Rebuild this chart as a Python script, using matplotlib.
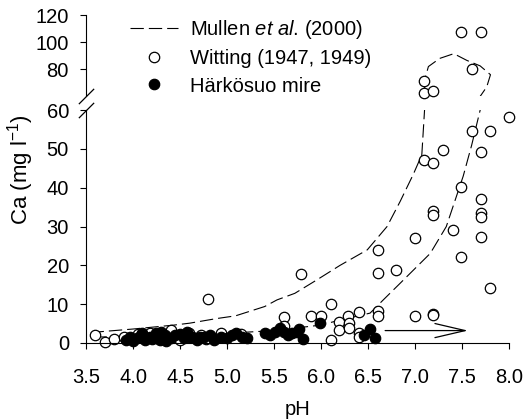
import matplotlib
matplotlib.use('Agg')
import matplotlib.pyplot as plt
from matplotlib.lines import Line2D
import numpy as np

plt.rcParams['font.family'] = 'Liberation Sans'
plt.rcParams['font.size'] = 14.5
plt.rcParams['mathtext.fontset'] = 'custom'
plt.rcParams['mathtext.rm'] = 'Liberation Sans'
plt.rcParams['mathtext.it'] = 'Liberation Sans:italic'

# Mullen et al. (2000) envelope, traced as one closed path
mullen_ph = [3.55, 3.65, 4.0, 4.43, 4.6, 4.89, 5.09, 5.40, 5.53, 5.72, 5.95, 6.2,
             6.49, 6.70, 6.84, 6.98, 7.07, 7.10, 7.10, 7.14, 7.26, 7.41, 7.55, 7.69,
             7.80, 7.76, 7.71, 7.69, 7.60, 7.51, 7.33, 7.16, 6.84, 6.66, 6.52, 6.20,
             5.99, 5.5, 5.0, 4.5, 4.0, 3.55]
mullen_ca = [2.5, 2.9, 3.6, 4.6, 5.1, 6.3, 7.0, 9.4, 11.1, 12.8, 16.2, 20.0,
             24.0, 30.0, 36.5, 43.5, 48.5, 60.4, 72.0, 82.0, 88.0, 91.5, 86.5, 82.5,
             76.0, 67.0, 62.0, 60.0, 51.0, 43.0, 30.0, 23.1, 15.4, 11.1, 7.7, 5.9,
             4.6, 3.2, 2.5, 2.0, 1.7, 1.5]

# Witting (1947, 1949)
witting_ph = [7.49, 7.70, 7.60, 7.09, 7.09, 7.19,
              8.00, 7.60, 7.80, 7.30, 7.70, 7.09, 7.19,
              7.49, 7.70, 7.70, 7.70, 7.19, 7.19, 7.40, 7.00, 7.70, 7.49, 6.80, 7.80,
              7.00, 7.19, 7.19,
              6.60, 6.60, 5.79, 6.10, 5.89, 6.00, 6.29, 6.40, 6.60, 6.60, 6.19, 6.30,
              6.19, 6.30, 6.40, 6.40, 6.10,
              4.80, 5.60, 5.60,
              3.60, 3.70, 3.80, 3.90, 4.18, 4.40, 4.50, 4.59, 4.30, 4.05, 4.72, 4.78,
              4.93, 5.15, 4.25]
witting_ca = [107.7, 107.7, 80.0, 71.6, 62.3, 64.0,
              58.2, 54.6, 54.6, 49.7, 49.1, 47.2, 46.3,
              40.3, 37.0, 33.4, 32.4, 34.1, 33.0, 29.1, 27.1, 27.4, 22.2, 18.8, 14.1,
              7.0, 7.6, 7.2,
              24.0, 18.1, 17.8, 10.0, 7.0, 7.0, 7.0, 8.1, 8.2, 7.0, 5.5, 5.2,
              3.4, 3.8, 2.5, 1.5, 0.8,
              11.3, 6.8, 4.3,
              2.1, 0.3, 1.0, 1.6, 2.5, 3.4, 0.7, 2.5, 2.4, 2.2, 2.0, 1.0,
              2.5, 2.3, 1.2]

# Härkösuo mire
harko_ph = [3.93, 3.97, 4.00, 4.04, 4.08, 4.10, 4.13, 4.18, 4.20, 4.24,
            4.25, 4.29, 4.30, 4.34, 4.35, 4.40, 4.45, 4.50, 4.54, 4.57,
            4.61, 4.63, 4.66, 4.68, 4.71, 4.75, 4.82, 4.86, 4.94, 5.00,
            5.05, 5.10, 5.16, 5.21, 5.40, 5.46, 5.51, 5.56, 5.60, 5.65,
            5.69, 5.74, 5.76, 5.81, 5.99, 6.46, 6.52, 6.57]
harko_ca = [0.8, 1.6, 0.5, 1.2, 2.1, 2.6, 0.8, 1.6, 1.0, 2.5,
            1.8, 0.9, 2.8, 2.1, 0.6, 1.2, 2.1, 2.2, 1.2, 2.9,
            1.6, 1.6, 1.2, 0.9, 1.6, 1.6, 2.1, 0.9, 1.6, 1.2,
            2.1, 2.5, 1.6, 1.2, 2.5, 2.1, 2.9, 3.8, 2.9, 2.1,
            2.5, 2.9, 3.5, 1.0, 5.1, 2.1, 3.6, 1.2]

xticks = [3.5, 4.0, 4.5, 5.0, 5.5, 6.0, 6.5, 7.0, 7.5, 8.0]
low_yticks = [0, 10, 20, 30, 40, 50, 60]
high_yticks = [80, 100, 120]
break_at = 60

wx, wy = np.array(witting_ph), np.array(witting_ca)
hx, hy = np.array(harko_ph), np.array(harko_ca)

fig = plt.figure(figsize=(5.23, 4.19), dpi=100)
ax_lo = fig.add_axes([0.1644, 0.1814, 0.8094, 0.5556])
ax_hi = fig.add_axes([0.1644, 0.7699, 0.8094, 0.1943], sharex=ax_lo)

dash = (0, (12, 4.5))
open_kw = dict(ls='none', marker='o', ms=7.5, mfc='white', mec='black', mew=0.9, clip_on=False)
fill_kw = dict(ls='none', marker='o', ms=7.5, mfc='black', mec='black', mew=0.9, clip_on=False)

for ax in (ax_lo, ax_hi):
    ax.plot(mullen_ph, mullen_ca, color='black', lw=0.8, ls=dash, zorder=1)
    ax.spines['top'].set_visible(False)
    ax.spines['right'].set_visible(False)
    ax.spines['left'].set_linewidth(0.8)
    ax.spines['bottom'].set_linewidth(0.8)
    ax.tick_params(direction='out', length=4.3, width=0.8)

lo = wy <= break_at
ax_lo.plot(wx[lo], wy[lo], zorder=2, **open_kw)
ax_hi.plot(wx[~lo], wy[~lo], zorder=2, **open_kw)
ax_lo.plot(hx, hy, zorder=3, **fill_kw)

ax_lo.annotate('', xy=(7.56, 3.2), xytext=(6.68, 3.2),
               arrowprops=dict(arrowstyle='->,head_length=1.5,head_width=0.35',
                               lw=0.9, color='black', shrinkA=0, shrinkB=0))

ax_lo.set_xlim(3.5, 8.0)
ax_lo.set_xticks(xticks)
ax_lo.set_xticklabels([f'{t:.1f}' for t in xticks])
ax_lo.set_ylim(0, 60)
ax_lo.set_yticks(low_yticks)
ax_lo.tick_params(axis='x', pad=14)
ax_lo.tick_params(axis='y', pad=8)
ax_lo.set_xlabel('pH', labelpad=9)

ax_hi.set_ylim(60, 120)
ax_hi.set_yticks(high_yticks)
ax_hi.spines['bottom'].set_visible(False)
ax_hi.tick_params(axis='x', bottom=False, labelbottom=False)
ax_hi.tick_params(axis='y', pad=8)

# break marks on the y axis
kw = dict(marker=[(-1, -1), (1, 1)], markersize=11, linestyle='none',
          color='k', mec='k', mew=0.9, clip_on=False)
ax_hi.plot([0], [0], transform=ax_hi.transAxes, **kw)
ax_lo.plot([0], [1], transform=ax_lo.transAxes, **kw)

fig.text(21 / 523, 1 - 170 / 419, r'Ca (mg l$^{-1}$)', rotation=90,
         ha='center', va='center', fontsize=16)

handles = [
    Line2D([], [], color='black', lw=0.8, ls=dash),
    Line2D([], [], ls='none', marker='o', ms=7.5, mfc='white', mec='black', mew=0.9),
    Line2D([], [], ls='none', marker='o', ms=7.5, mfc='black', mec='black', mew=0.9),
]
labels = [r'Mullen $\mathit{et\ al}$. (2000)', 'Witting (1947, 1949)', 'Härkösuo mire']
ax_hi.legend(handles, labels, loc='upper left', bbox_to_anchor=(130 / 523, 1 - 18 / 419),
             bbox_transform=fig.transFigure, frameon=False, handlelength=2.4,
             handletextpad=0.6, labelspacing=0.41, borderpad=0, borderaxespad=0)

plt.savefig('out.png', dpi=100)
plt.close()
